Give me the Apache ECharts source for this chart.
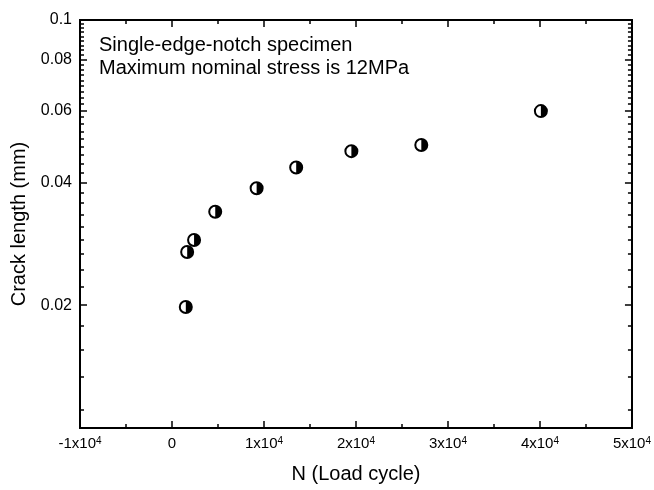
<!DOCTYPE html>
<html>
<head>
<meta charset="utf-8">
<script src="https://cdn.jsdelivr.net/npm/echarts@6/dist/echarts.min.js"></script>
<style>html,body{margin:0;padding:0;background:#fff}#c{width:654px;height:490px}</style>
</head>
<body>
<div id="c"></div>
<script>
// Data
const cycles = [1500, 1650, 2400, 4700, 9200, 13500, 19500, 27100, 40100];
const crackLength = [0.0198, 0.0270, 0.0289, 0.0339, 0.0387, 0.0435, 0.0477, 0.0494, 0.0598];

// Tick labels
const xTickValues = [-10000, 0, 10000, 20000, 30000, 40000, 50000];
const xTickLabels = ['-1x10^4', '0', '1x10^4', '2x10^4', '3x10^4', '4x10^4', '5x10^4'];
const yTickValues = [0.02, 0.04, 0.06, 0.08, 0.1];
const yTickLabels = ['0.02', '0.04', '0.06', '0.08', '0.1'];
const yMinorStep = 0.02 / 9;

const annotation = ['Single-edge-notch specimen', 'Maximum nominal stress is 12MPa'];
const xName = 'N (Load cycle)';
const yName = 'Crack length (mm)';

const FONT = '"Liberation Sans", Arial, Helvetica, sans-serif';

// minor tick values on the log axis (linear step of 0.02/9)
const yMinorValues = [];
for (let k = -4; k <= 36; k++) {
  if (k % 9 === 0) continue;
  const v = 0.02 + k * yMinorStep;
  if (v > 0.01 && v < 0.1) yMinorValues.push(+v.toFixed(6));
}

function xLabel(v) {
  let i = xTickValues.findIndex(t => Math.abs(t - v) < 1e-6);
  if (i < 0) return '';
  const s = xTickLabels[i];
  const p = s.split('^');
  if (p.length === 1) return '{b|' + s + '}';
  return '{b|' + p[0] + '}{s|' + p[1] + '}';
}
function yLabel(v) {
  let best = 0, d = Infinity;
  yTickValues.forEach((t, i) => { const dd = Math.abs(Math.log10(t) - Math.log10(v)); if (dd < d) { d = dd; best = i; } });
  return yTickLabels[best];
}

const lineStyle = { color: '#000', width: 2 };
const tickStyle = { color: '#000', width: 1.5 };

function xAxisDef(pos, withLabels) {
  return {
    type: 'value', position: pos, min: -10000, max: 50000, interval: 10000,
    axisLine: { show: true, onZero: false, lineStyle },
    axisTick: { show: true, inside: true, length: 7, lineStyle: tickStyle },
    minorTick: { show: true, splitNumber: 2, length: 4, lineStyle: tickStyle },
    splitLine: { show: false }, minorSplitLine: { show: false },
    axisLabel: withLabels ? {
      show: true, margin: 8, formatter: xLabel,
      rich: {
        b: { fontFamily: FONT, fontSize: 15, color: '#000', lineHeight: 15, verticalAlign: 'bottom' },
        s: { fontFamily: FONT, fontSize: 10, color: '#000', lineHeight: 10, verticalAlign: 'top' }
      }
    } : { show: false },
    name: withLabels ? xName : '', nameLocation: 'middle', nameGap: 36,
    nameTextStyle: { fontFamily: FONT, fontSize: 20, color: '#000' }
  };
}
function yAxisDef(pos, major, withLabels) {
  return {
    type: 'log', logBase: 10, position: pos, min: 0.01, max: 0.1,
    axisLine: { show: true, onZero: false, lineStyle },
    axisTick: { show: true, inside: true, length: major ? 7 : 4, lineStyle: tickStyle,
      customValues: major ? yTickValues : yMinorValues },
    splitLine: { show: false },
    axisLabel: withLabels ? {
      show: true, margin: 8, customValues: yTickValues, formatter: yLabel,
      fontFamily: FONT, fontSize: 16, color: '#000'
    } : { show: false },
    name: withLabels ? yName : '', nameLocation: 'middle', nameGap: 48,
    nameTextStyle: { fontFamily: FONT, fontSize: 20, color: '#000' }
  };
}

const pts = cycles.map((x, i) => [x, crackLength[i]]);

const chart = echarts.init(document.getElementById('c'), null, { renderer: 'canvas' });
chart.setOption({
  animation: false,
  backgroundColor: '#fff',
  title: {
    text: annotation.join('\n'), left: 99, top: 34, padding: 0,
    textStyle: { fontFamily: FONT, fontSize: 20, fontWeight: 'normal', color: '#000', lineHeight: 23 }
  },
  grid: { left: 80, right: 22, top: 20, bottom: 62, containLabel: false },
  xAxis: [xAxisDef('bottom', true), xAxisDef('top', false)],
  yAxis: [yAxisDef('left', true, true), yAxisDef('left', false, false), yAxisDef('right', true, false), yAxisDef('right', false, false)],
  series: [
    {
      type: 'scatter', xAxisIndex: 0, yAxisIndex: 0, data: pts,
      symbol: 'circle', symbolSize: 12,
      itemStyle: { color: '#fff', borderColor: '#000', borderWidth: 2, opacity: 1 }
    },
    {
      type: 'scatter', xAxisIndex: 0, yAxisIndex: 0, data: pts,
      symbol: 'path://M0,0 A10,10 0 0,1 0,20 Z', symbolSize: [6, 12], symbolOffset: [3, 0],
      itemStyle: { color: '#000', opacity: 1 }
    }
  ]
});
</script>
</body>
</html>
